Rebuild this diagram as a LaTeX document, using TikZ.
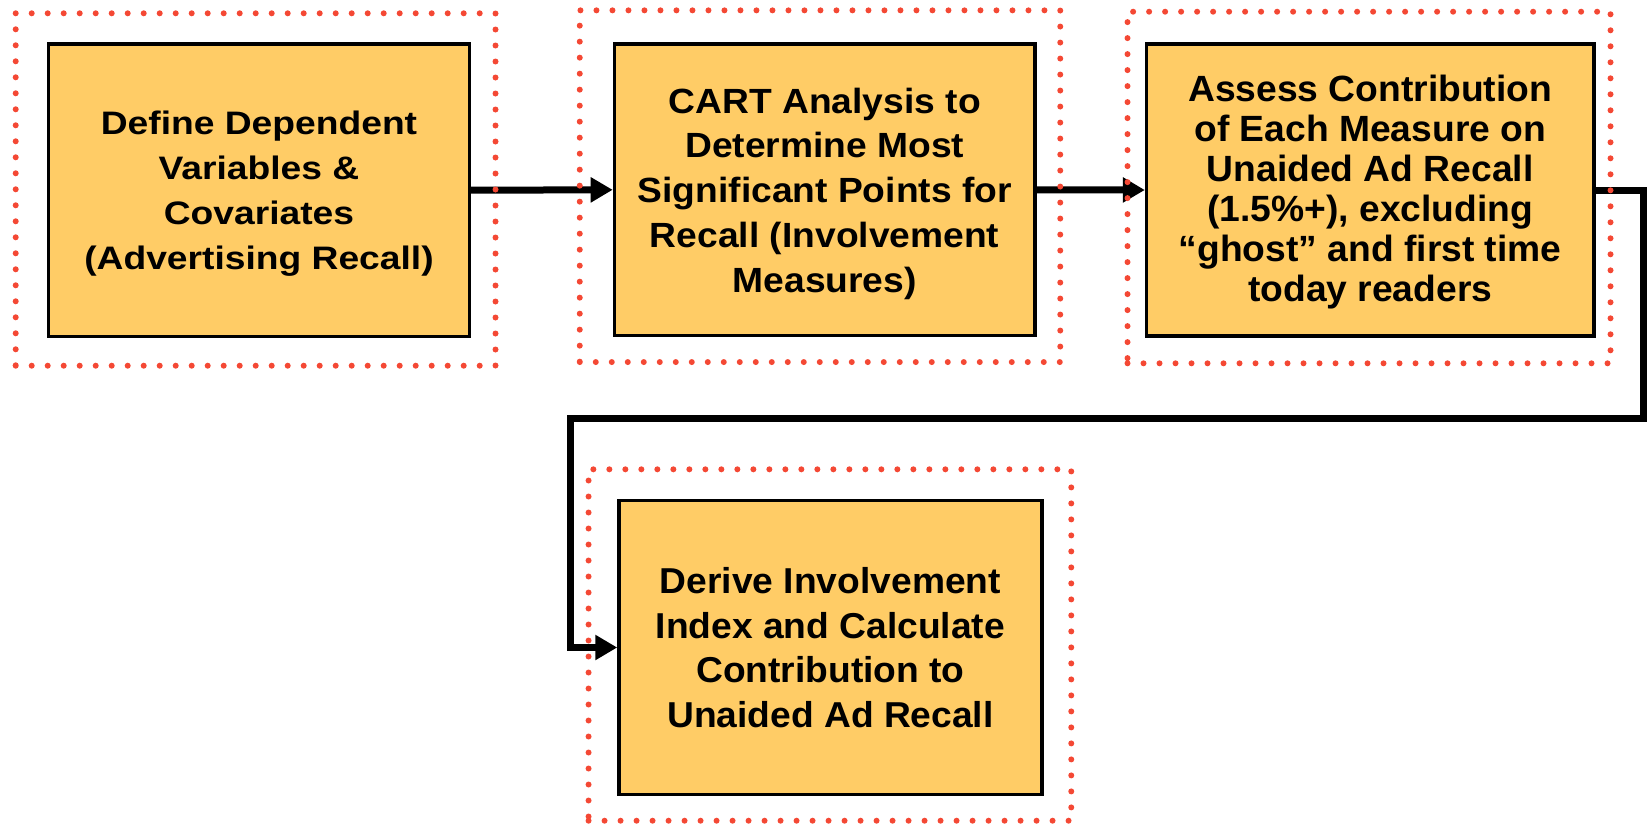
\documentclass[tikz,border=0pt]{standalone}
\usepackage{fontspec}
\setmainfont{Liberation Sans}
\newfontfamily\fontA{Liberation Sans}[FakeStretch=1.145]
\newfontfamily\fontB{Liberation Sans}[FakeStretch=1.063]
\newfontfamily\fontC{Liberation Sans}[FakeStretch=1.02]
\newfontfamily\fontD{Liberation Sans}[FakeStretch=1.033]
\usetikzlibrary{arrows.meta}
\definecolor{boxfill}{RGB}{255,204,102}
\definecolor{dotred}{RGB}{244,72,52}
\begin{document}
\begin{tikzpicture}[x=1pt,y=-1pt,
  stepbox/.style={draw=black,line width=3.3pt,fill=boxfill,rectangle,inner sep=0pt},
  boxtext/.style={inner sep=0pt,align=center,text=black},
  dotframe/.style={draw=dotred,line width=6pt,dash pattern=on 0pt off 16pt,line cap=round,
    rectangle,inner sep=0pt,outer sep=0pt},
  conn/.style={line width=7pt,draw=black,-{Triangle[length=22pt,width=24pt]}}]
\useasboundingbox (0,0) rectangle (1648,825);
% boxes
\node[stepbox,minimum width=420.6pt,minimum height=292.3pt] (b1) at (259,190.2) {};
\node[stepbox,minimum width=420.7pt,minimum height=291.7pt] (b2) at (824.7,189.8) {};
\node[stepbox,minimum width=447.4pt,minimum height=292pt] (b3) at (1370.2,190) {};
\node[stepbox,minimum width=423pt,minimum height=293.7pt] (b4) at (830.4,647.5) {};
% texts
\node[boxtext,font=\fontA\fontsize{32.5}{45}\selectfont\bfseries] (t1) at (259,193.5)
  {Define Dependent\\Variables \&\\Covariates\\(Advertising Recall)};
\node[boxtext,font=\fontB\fontsize{35}{44.8}\selectfont\bfseries] (t2) at (824.7,193.6)
  {CART Analysis to\\Determine Most\\Significant Points for\\Recall (Involvement\\Measures)};
\node[boxtext,font=\fontC\fontsize{36.5}{40}\selectfont\bfseries] (t3) at (1370.2,191.7)
  {Assess Contribution\\of Each Measure on\\Unaided Ad Recall\\(1.5\%+), excluding\\“ghost” and first time\\today readers};
\node[boxtext,font=\fontD\fontsize{36}{44.4}\selectfont\bfseries] (t4) at (830.4,647.7)
  {Derive Involvement\\Index and Calculate\\Contribution to\\Unaided Ad Recall};
% connectors
\coordinate (c1) at (1643.3,190);
\coordinate (c2) at (1643.3,418);
\coordinate (c3) at (570,418);
\coordinate (c4) at (570,647.5);
\draw[conn] (b1.east) -- (b2.west);
\draw[conn] (b2.east) -- (b3.west);
\draw[conn] (b3.east) -- (c1) -- (c2) -- (c3) -- (c4) -- (b4.west);
% dotted frames
\node[dotframe,minimum width=479.8pt,minimum height=352.4pt] (f1) at (255.6,189.5) {};
\node[dotframe,minimum width=480.5pt,minimum height=351.7pt] (f2) at (820,186.2) {};
\node[dotframe,minimum width=483pt,minimum height=351.6pt] (f3) at (1369,187.5) {};
\node[dotframe,minimum width=482.7pt,minimum height=351.4pt] (f4) at (829.9,645) {};
\end{tikzpicture}
\end{document}
